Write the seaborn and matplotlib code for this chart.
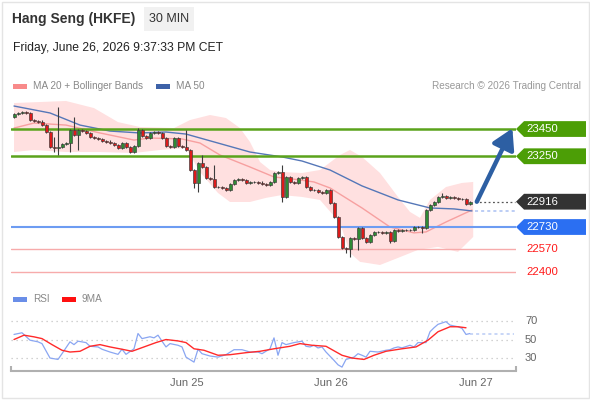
import numpy as np
import matplotlib
matplotlib.use("Agg")
import matplotlib.pyplot as plt
from matplotlib.patches import Polygon, Rectangle
from matplotlib.transforms import blended_transform_factory
import seaborn as sns

# ---------------- data ----------------
title = "Hang Seng (HKFE)"
interval = "30 MIN"
timestamp = "Friday, June 26, 2026 9:37:33 PM CET"

first_open = 23538
closes = [23560, 23568, 23575, 23568, 23516, 23509, 23505, 23479, 23428, 23318,
          23310, 23318, 23340, 23344, 23443, 23406, 23443, 23435, 23421, 23391,
          23384, 23377, 23362, 23358, 23347, 23333, 23310, 23347, 23318, 23281,
          23325, 23443, 23399, 23384, 23421, 23428, 23421, 23384, 23325, 23321,
          23384, 23325, 23321, 23296, 23149, 23054, 23200, 23171, 23090, 23083,
          23024, 23024, 23017, 23002, 23046, 23076, 23080, 23076, 23054, 23061,
          23061, 23057, 23046, 23039, 23061, 23127, 23134, 22951, 23098, 23061,
          23054, 23090, 23098, 23024, 23002, 23002, 22988, 22980, 23002, 22907,
          22804, 22657, 22576, 22569, 22650, 22642, 22720, 22650, 22620, 22672,
          22694, 22694, 22687, 22694, 22628, 22708, 22701, 22708, 22708, 22708,
          22730, 22730, 22723, 22855, 22892, 22914, 22951, 22958, 22944, 22951,
          22944, 22936, 22936, 22899, 22916]
wick_high = {10: 23391, 11: 23612, 15: 23538, 31: 23457, 43: 23443, 47: 23259,
             50: 23186, 67: 23186, 107: 22980}
wick_low = {10: 23281, 11: 23259, 14: 23281, 16: 23296, 30: 23274, 45: 23017,
            46: 22988, 67: 22914, 68: 22940, 83: 22540, 84: 22510, 86: 22562,
            94: 22613, 102: 22687}

ma50_idx = [0, 9, 16.5, 24, 31.5, 38, 43, 51, 59, 67, 72, 79, 87, 96, 104, 110, 114.5]
ma50_val = [23619, 23568, 23479, 23435, 23421, 23428, 23413, 23347, 23281, 23245,
            23215, 23149, 23032, 22929, 22870, 22863, 22848]
ma20_idx = [0, 5, 13, 21.5, 30, 34, 42, 46.5, 51.5, 59, 65, 71.5, 75, 79, 87, 94,
            100, 103, 108, 114.5]
ma20_val = [23457, 23494, 23479, 23421, 23369, 23384, 23377, 23347, 23259, 23171,
            23098, 23076, 23061, 23017, 22870, 22730, 22687, 22694, 22767, 22855]
bb_up_idx = [0, 13, 20, 26, 31.5, 40, 44, 49, 53, 56.5, 59, 61.5, 64, 67, 72, 76.5,
             81.5, 84, 87, 91.5, 96, 99, 101.5, 104, 108, 112, 114.8]
bb_up_val = [23641, 23656, 23604, 23501, 23465, 23457, 23516, 23553, 23531, 23457,
             23355, 23208, 23149, 23134, 23127, 23149, 23259, 23296, 23245, 23127,
             22951, 22841, 22797, 22929, 23024, 23054, 23061]
bb_lo_idx = [0, 5, 13, 21.5, 30, 36.5, 43, 46.5, 51, 54, 59, 63, 67, 72, 76.5, 81.5,
             84, 86.5, 91.5, 96, 101, 106, 111, 114.8]
bb_lo_val = [23281, 23296, 23281, 23281, 23274, 23296, 23310, 23134, 22980, 22914,
             22914, 22944, 22965, 22951, 22929, 22760, 22540, 22474, 22451, 22503,
             22562, 22584, 22547, 22657]

levels = [23450, 23250, 22730, 22570, 22400]
level_kind = ["resistance", "resistance", "pivot", "support", "support"]
last_price = 22916

rsi_idx = [0, 2, 4, 6, 7, 9, 11, 12, 14, 15, 16, 18, 19, 21, 22, 24, 26, 27, 28, 30,
           31, 32, 34, 35, 36, 37, 38, 39, 41, 42, 43, 45, 46, 47, 49, 51, 53, 55, 57, 59,
           61, 62, 64, 65, 66, 67, 68, 70, 72, 73, 74, 75, 76, 77, 78, 80, 81, 82, 83, 85,
           86, 87, 88, 89, 91, 93, 94, 95, 96, 97, 99, 100, 101, 103, 104, 105, 106, 108,
           109, 111, 112, 113, 114]
rsi_val = [55.5, 57.3, 49.3, 47.5, 45.6, 30, 28.5, 34.7, 47.5, 44.5, 48.2, 46.7, 42.7,
           42, 39.5, 36.5, 34, 39.5, 34, 40, 56.5, 51, 53, 51.8, 54.7, 48.2, 42, 45.6,
           43.8, 42, 31, 25.6, 39.5, 34.7, 32.2, 31, 33.6, 39, 39, 36.5, 36.5, 34.7, 40,
           51.8, 33, 46.7, 44.5, 46.7, 48.2, 42.7, 42, 43.8, 40.9, 42, 36.5, 27.5, 22.7,
           20.2, 28.5, 31, 34.7, 33, 31, 37.3, 36.5, 38.4, 39, 40.9, 42, 41, 43.8, 42,
           46.7, 46.7, 58.4, 62.7, 66.4, 69.3, 65.6, 63.8, 62, 55.5, 56.5]
ma9_idx = [0, 2.5, 5, 7, 9.5, 12, 14, 16.5, 19, 21.5, 24, 27, 29.5, 32.5, 35.5, 38, 41,
           43, 45, 47.5, 51, 54, 58, 61.5, 65, 69, 71.5, 74.5, 78, 82, 84.5, 87.5, 90,
           93, 97, 100.5, 103.5, 106, 109, 111, 113]
ma9_val = [50, 54.7, 52.9, 51, 44.5, 38.4, 36.5, 37.3, 42.7, 44.5, 42, 39.5, 37.3, 42,
           46.7, 50, 48.5, 46.7, 40, 38.4, 33, 33.6, 35.8, 37.3, 40, 42.7, 45.6, 43.8,
           42.7, 33, 30, 28.5, 33, 37.3, 40, 42, 49.3, 58.4, 63.8, 63.8, 62.7]
rsi_levels = [30, 50, 70]

day_labels = ["Jun 25", "Jun 26", "Jun 27"]
day_pos = [43.25, 79.25, 115.5]

# ---------------- style ----------------
sns.set_style("white")
plt.rcParams["font.family"] = ["Liberation Sans", "DejaVu Sans"]

W, H = 590, 400
fig = plt.figure(figsize=(W / 100, H / 100), dpi=100)
fig.patch.set_facecolor("white")


def fx(px):
    return px / W


def fy(py):
    return 1 - py / H


XL = (-0.75, 125.5)
ax = fig.add_axes([fx(11), fy(285), fx(516) - fx(11), fy(95) - fy(285)])
ax_r = fig.add_axes([fx(11), fy(371), fx(516) - fx(11), fy(310) - fy(371)])
for a in (ax, ax_r):
    a.set_xlim(*XL)
    a.set_facecolor("none")
    for s in a.spines.values():
        s.set_visible(False)
ax.set_ylim(22304, 23700)
ax.set_xticks([])
ax.set_yticks([])

# outer frame
fig.patches.append(Rectangle((fx(1.5), fy(397.5)), fx(587), fy(1.5) - fy(397.5),
                             transform=fig.transFigure, fill=False,
                             ec="#e4e4e4", lw=1))

# ---------------- header ----------------
fig.text(fx(12), fy(19), title, fontsize=10, fontweight="bold", color="#333333",
         va="center", ha="left")
fig.patches.append(Rectangle((fx(144), fy(31)), fx(50), fy(7) - fy(31),
                             transform=fig.transFigure, fc="#f1f1f1", ec="none"))
fig.text(fx(169), fy(19), interval, fontsize=9, color="#333333", va="center",
         ha="center")
fig.text(fx(13), fy(48), timestamp, fontsize=8.7, color="#222222", va="center",
         ha="left")

# legend rows
def legend_item(x, y, color, label):
    fig.patches.append(Rectangle((fx(x), fy(y + 2.5)), fx(14), fy(y - 2.5) - fy(y + 2.5),
                                 transform=fig.transFigure, fc=color, ec="none"))
    fig.text(fx(x + 20), fy(y), label, fontsize=7.2, color="#888888", va="center",
             ha="left")


legend_item(13, 86, "#f88a8a", "MA 20 + Bollinger Bands")
legend_item(156, 86, "#3d62a8", "MA 50")
fig.text(fx(581), fy(86), "Research \u00a9 2026 Trading Central", fontsize=7.2,
         color="#999999", va="center", ha="right")
legend_item(13, 299, "#6a8ee8", "RSI")
legend_item(62, 299, "#ff1010", "9MA")

# ---------------- price panel ----------------
ax.fill(np.concatenate([bb_up_idx, bb_lo_idx[::-1]]),
        np.concatenate([bb_up_val, bb_lo_val[::-1]]),
        color="#ffe0e0", lw=0, zorder=1)
sns.lineplot(x=ma20_idx, y=ma20_val, ax=ax, color="#f7a0a0", linewidth=1,
             estimator=None, zorder=2)
sns.lineplot(x=ma50_idx, y=ma50_val, ax=ax, color="#5577b8", linewidth=1,
             estimator=None, zorder=2)

level_colors = {"resistance": "#5ba31c", "pivot": "#6d9cf2", "support": "#f7abab"}
level_lw = {"resistance": 1.8, "pivot": 1.5, "support": 1.0}
for lv, kind in zip(levels, level_kind):
    ax.axhline(lv, color=level_colors[kind], lw=level_lw[kind], zorder=2.5)

n = len(closes)
idx = np.arange(n)
c = np.array(closes, dtype=float)
o = np.array([first_open] + closes[:-1], dtype=float)
hi = np.maximum(o, c) + 8
lo = np.minimum(o, c) - 8
for k, v in wick_high.items():
    hi[k] = v
for k, v in wick_low.items():
    lo[k] = v
up = c >= o
body_col = np.where(up, "#2f8a34", "#dc1a1a")
ax.vlines(idx, lo, hi, color="#3c3c3c", lw=0.8, zorder=3)
ax.bar(idx, c - o, bottom=o, width=0.75, color=body_col, edgecolor="#3a3a3a",
       linewidth=0.45, zorder=3.5)

# extension lines to the price tags
ax.hlines(last_price, n + 0.25, XL[1] - 0.2, colors="#555555", lw=0.9,
          linestyles=(0, (1.5, 2)), zorder=2)
ax.hlines(ma50_val[-1], n + 0.25, XL[1] - 0.2, colors="#a9c0f2", lw=1.1,
          linestyles=(0, (2, 2)), zorder=2)

# forecast arrow
ax.annotate("", xy=(n - 1 + 10.6, levels[0] + 5), xytext=(n - 1 + 1.7, last_price),
            arrowprops=dict(arrowstyle="-|>,head_length=0.55,head_width=0.32",
                            color="#2d5fa3", lw=3.2, mutation_scale=22,
                            shrinkA=0, shrinkB=0), zorder=6)

# price tags
bt = blended_transform_factory(ax.transAxes, ax.transData)
x_tip, x_body, x_end = 1.0, 1.0159, 1.1386
hh = 58


def tag(price, text, fc):
    ax.add_patch(Polygon([(x_tip, price), (x_body, price + hh), (x_end, price + hh),
                          (x_end, price - hh), (x_body, price - hh)], closed=True,
                         transform=bt, fc=fc, ec="none", clip_on=False, zorder=5))
    ax.text(1.0198, price, text, transform=bt, color="white", fontsize=8.2,
            va="center", ha="left", clip_on=False, zorder=6)


tag(levels[0], f"{levels[0]}", "#4c9e06")
tag(levels[1], f"{levels[1]}", "#4c9e06")
tag(last_price, f"{last_price}", "#333333")
tag(levels[2], f"{levels[2]}", "#2b6ff2")
for lv in levels[3:]:
    ax.text(1.0198, lv, f"{lv}", transform=bt, color="#ff1a1a", fontsize=8.2,
            va="center", ha="left", clip_on=False)

# ---------------- RSI panel ----------------
ax_r.set_ylim(16, 81.9)
for lv in rsi_levels:
    ax_r.axhline(lv, color="#c4c4c4", lw=0.9, linestyle=(0, (1, 3)), zorder=1)
    ax_r.text(1.0178, lv, f"{lv}", transform=blended_transform_factory(
        ax_r.transAxes, ax_r.transData), fontsize=8, color="#666666",
        va="center", ha="left", clip_on=False)
sns.lineplot(x=ma9_idx, y=ma9_val, ax=ax_r, color="#ff2a2a", linewidth=1,
             estimator=None, zorder=3)
sns.lineplot(x=rsi_idx, y=rsi_val, ax=ax_r, color="#8aa6f2", linewidth=0.9,
             estimator=None, zorder=2)
ax_r.hlines(rsi_val[-1], rsi_idx[-1], XL[1] - 0.5, colors="#b9cbf5", lw=1.1,
            linestyles=(0, (2, 2)), zorder=2)

ax_r.spines["bottom"].set_visible(True)
ax_r.spines["bottom"].set_color("#b0b0b0")
ax_r.spines["bottom"].set_linewidth(1.5)
for xe in (0, 1):
    ax_r.plot([xe, xe], [0, 0.085], transform=ax_r.transAxes, color="#b0b0b0",
              lw=1.5, clip_on=False, solid_capstyle="butt")
ax_r.set_yticks([])
ax_r.set_xticks(day_pos)
ax_r.set_xticklabels(day_labels, fontsize=8, color="#666666")
ax_r.tick_params(axis="x", length=0, pad=5)
ax_r.set_xlabel("")
ax_r.set_ylabel("")
ax.set_xlabel("")
ax.set_ylabel("")

fig.savefig("out.png", dpi=100, facecolor="white")
